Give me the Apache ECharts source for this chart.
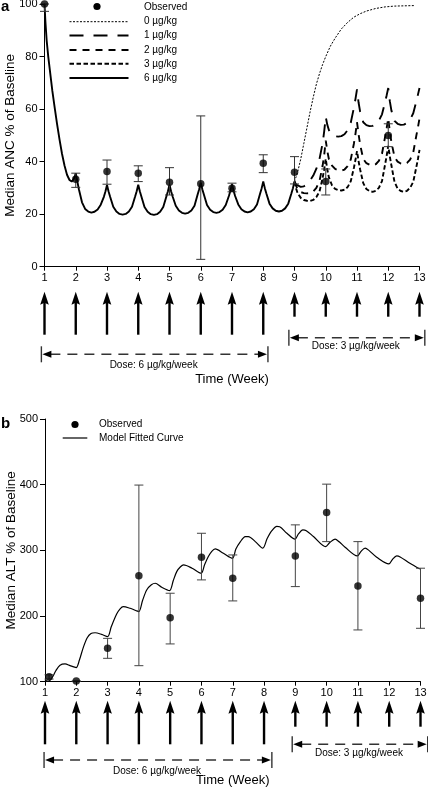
<!DOCTYPE html>
<html><head><meta charset="utf-8">
<script src="https://cdn.jsdelivr.net/npm/echarts@6/dist/echarts.min.js"></script>
<style>html,body{margin:0;padding:0;background:#fff}#c{width:428px;height:791px}</style>
</head><body><div id="c"></div>
<script>
const FONT = '"Liberation Sans", Arial, Helvetica, sans-serif';

// ---------- Panel a : ANC ----------
const weeksA6 = [1, 1.03, 1.07, 1.12, 1.18, 1.25, 1.32, 1.4, 1.48, 1.56, 1.64, 1.72, 1.8, 1.87, 1.93, 1.97, 2,
  2.05, 2.1, 2.2, 2.3, 2.4, 2.5, 2.6, 2.7, 2.8, 2.9, 2.95, 3,
  3.05, 3.1, 3.2, 3.3, 3.4, 3.5, 3.6, 3.7, 3.8, 3.9, 3.95, 4,
  4.05, 4.1, 4.2, 4.3, 4.4, 4.5, 4.6, 4.7, 4.8, 4.9, 4.95, 5,
  5.05, 5.1, 5.2, 5.3, 5.4, 5.5, 5.6, 5.7, 5.8, 5.9, 5.95, 6,
  6.05, 6.1, 6.2, 6.3, 6.4, 6.5, 6.6, 6.7, 6.8, 6.9, 6.95, 7,
  7.05, 7.1, 7.2, 7.3, 7.4, 7.5, 7.6, 7.7, 7.8, 7.9, 7.95, 8,
  8.05, 8.1, 8.2, 8.3, 8.4, 8.5, 8.6, 8.7, 8.8, 8.9, 8.95, 9];
const ancDose6 = [100, 93, 86, 80, 74, 67, 61, 54.5, 48.5, 43, 38.5, 35, 33, 32.4, 33.2, 34.5, 35.6,
  32.5, 29.5, 24.5, 22, 21, 20.6, 20.9, 21.8, 23.6, 26.6, 28.6, 31.1,
  28.6, 26.6, 22.8, 21, 20.1, 19.8, 20.1, 21, 22.8, 26.7, 28.7, 31.2,
  28.7, 26.7, 22.7, 20.9, 20, 19.7, 20, 20.9, 22.7, 26.7, 28.7, 31.2,
  28.7, 26.7, 23.2, 21.4, 20.5, 20.2, 20.5, 21.4, 23.2, 27.5, 29.5, 32,
  29.5, 27.5, 23.5, 21.7, 20.8, 20.5, 20.8, 21.7, 23.5, 26.9, 28.9, 31.4,
  28.9, 26.9, 23.7, 21.9, 21, 20.7, 21, 21.9, 23.7, 27.9, 29.9, 32.4,
  29.9, 27.9, 24, 22.2, 21.3, 21, 21.3, 22.2, 24, 27.9, 29.9, 32.4];

const weeksA0 = [9, 9.1, 9.2, 9.3, 9.4, 9.5, 9.6, 9.7, 9.8, 9.9, 10, 10.15, 10.3, 10.5, 10.7, 10.9, 11.1, 11.3, 11.6, 11.9, 12.2, 12.5, 12.85];
const ancDose0 = [32.4, 36, 41, 47, 53, 59, 64.5, 69.5, 73.5, 77, 80, 84, 87, 90.5, 93, 95, 96.3, 97.3, 98.3, 98.9, 99.2, 99.3, 99.4];

const weeksA9 = [9,
  9.05, 9.1, 9.2, 9.3, 9.4, 9.5, 9.6, 9.7, 9.8, 9.9, 9.95, 10,
  10.05, 10.1, 10.2, 10.3, 10.4, 10.5, 10.6, 10.7, 10.8, 10.9, 10.95, 11,
  11.05, 11.1, 11.2, 11.3, 11.4, 11.5, 11.6, 11.7, 11.8, 11.9, 11.95, 12,
  12.05, 12.1, 12.2, 12.3, 12.4, 12.5, 12.6, 12.7, 12.8, 12.9, 12.95, 13];
const ancDose1 = [32.4,
  31.3, 30.8, 30.4, 30.6, 31.4, 32.8, 34.7, 37.3, 41, 47, 51.5, 57,
  54, 52, 50.3, 49.7, 49.5, 49.7, 50.4, 52, 54.8, 60.5, 63.8, 67.5,
  62.5, 59, 55, 53.9, 53.5, 53.6, 54.2, 55.6, 58, 62.8, 65.3, 68,
  63, 59.5, 55.5, 54.4, 54, 54.1, 54.7, 56, 58.4, 63, 65.5, 68];
const ancDose2 = [32.4,
  30.8, 29.6, 28.4, 28, 27.9, 28, 28.6, 30, 32.6, 38.5, 42.5, 48,
  44, 41, 38.5, 37.2, 36.7, 36.5, 37, 38.3, 40.8, 46.8, 50.5, 55,
  50.5, 46.5, 41, 39.4, 38.8, 38.5, 39, 40.3, 43, 49.5, 52.8, 56.5,
  51.5, 47.5, 41.8, 40, 39.3, 39, 39.5, 40.8, 43.5, 50, 53, 56.5];
const ancDose3 = [32.4,
  29.8, 28, 26.2, 25.4, 25.1, 25, 25.4, 26.5, 28.6, 33.8, 37, 41,
  37, 34, 31, 29.6, 29.1, 29, 29.3, 30.3, 32.5, 37.6, 40.6, 44,
  40.2, 37, 31.8, 29.6, 28.8, 28.5, 28.9, 30, 32.6, 39, 42.3, 46,
  42, 38.6, 32.3, 29.7, 28.8, 28.5, 28.9, 30, 32.3, 38, 41, 44.5];

const obsWeeksA = [1, 2, 3, 4, 5, 6, 7, 8, 9, 10, 12];
const obsAncA   = [100, 33.3, 36.2, 35.6, 32.1, 31.6, 29.9, 39.4, 36.0, 32.4, 49.9];
const obsLowA   = [97.2, 30.2, 31.4, 32.4, 27.3, 2.8, 28.5, 35.8, 31.5, 27.3, 45.7];
const obsHighA  = [100, 35.6, 40.6, 38.4, 37.7, 57.4, 31.8, 42.6, 41.9, 37.2, 54.4];

// ---------- Panel b : ALT ----------
const weeksB = [1, 1.08, 1.16, 1.25, 1.35, 1.48, 1.64, 1.8, 1.92, 2,
  2.1, 2.23, 2.35, 2.47, 2.6, 2.81, 3,
  3.12, 3.29, 3.4, 3.5, 3.72, 3.9, 4,
  4.12, 4.25, 4.4, 4.52, 4.73, 4.98,
  5.1, 5.21, 5.33, 5.43, 5.7, 5.99,
  6.1, 6.22, 6.33, 6.44, 6.7, 6.99,
  7.1, 7.24, 7.4, 7.5, 7.72, 7.96,
  8.1, 8.25, 8.41, 8.5, 8.73, 8.99,
  9.1, 9.24, 9.35, 9.58, 9.97,
  10.1, 10.27, 10.4, 10.59, 10.98,
  11.1, 11.23, 11.35, 11.6, 11.99,
  12.1, 12.24, 12.35, 12.66, 12.98];
const altModel = [102.6, 101, 102, 108, 117, 125, 127, 124.5, 122.5, 121.5,
  133, 153, 167, 173.5, 174.5, 172, 168.6,
  184, 203, 211, 214.3, 211.8, 208.5, 206.7,
  224, 239.7, 247.5, 249.9, 243.8, 238.7,
  254, 267.6, 275, 277.8, 272.8, 265.2,
  278, 290.5, 298.5, 302.2, 295.6, 288,
  302, 313, 320.9, 321, 313.3, 303.3,
  318, 330, 336.5, 336, 326, 317,
  325, 331.2, 330, 321, 305.7,
  312, 317, 313, 304.8, 291.5,
  298.5, 303.3, 300, 289.6, 279.3,
  286, 291.5, 290, 280.4, 271.7];

const obsWeeksB = [1.13, 2, 3, 4, 5, 6, 7, 9, 10, 11, 13];
const obsAltB   = [107.6, 101, 150.9, 261.5, 197.5, 289.5, 257.5, 291.5, 357.5, 245.8, 227];
const obsLowB   = [104, 101, 135.6, 124.4, 157.5, 255, 223, 244.8, 313.3, 178.8, 181.3];
const obsHighB  = [110.5, 101, 166, 399.4, 234.7, 326, 293, 338.8, 400.8, 313.3, 272.8];

// ---------- dosing ----------
const doseWeeks = [1, 2, 3, 4, 5, 6, 7, 8, 9, 10, 11, 12, 13];
const doseLevel = [6, 6, 6, 6, 6, 6, 6, 6, 3, 3, 3, 3, 3];
const periodStartA = [0.9, 8.82];
const periodEndA   = [8.15, 13.17];
const periodStartB = [0.97, 8.9];
const periodEndB   = [8.25, 13.23];
const periodDose  = [6, 3];
const periodLabels = ['Dose: 6 µg/kg/week', 'Dose: 3 µg/kg/week'];
const xTickLabels = ['1','2','3','4','5','6','7','8','9','10','11','12','13'];

const legendLabelsA = ['Observed', '0 µg/kg', '1 µg/kg', '2 µg/kg', '3 µg/kg', '6 µg/kg'];
const legendLabelsB = ['Observed', 'Model Fitted Curve'];

const zip = (a, b) => a.map((v, i) => [v, b[i]]);
const zip3 = (a, b, c) => a.map((v, i) => [v, b[i], c[i]]);

function errRender(color) {
  return function (params, api) {
    const w = api.value(0);
    const pl = api.coord([w, api.value(1)]);
    const ph = api.coord([w, api.value(2)]);
    const x = pl[0];
    const st = { stroke: color, lineWidth: 1 };
    return { type: 'group', children: [
      { type: 'line', shape: { x1: x, y1: pl[1], x2: x, y2: ph[1] }, style: st },
      { type: 'line', shape: { x1: x - 4.5, y1: pl[1], x2: x + 4.5, y2: pl[1] }, style: st },
      { type: 'line', shape: { x1: x - 4.5, y1: ph[1], x2: x + 4.5, y2: ph[1] }, style: st }
    ]};
  };
}

function arrowRender(cfg) {
  return function (params, api) {
    const cs = params.coordSys;
    const y0 = cs.y + cs.height;
    const x = api.coord([api.value(0), cfg.yMin])[0];
    const tip = y0 + cfg.tip;
    const bottom = y0 + (api.value(1) === 6 ? cfg.longB : cfg.shortB);
    return { type: 'group', children: [
      { type: 'line', shape: { x1: x, y1: tip + 8, x2: x, y2: bottom }, style: { stroke: '#000', lineWidth: 2.4 } },
      { type: 'polygon', shape: { points: [[x, tip], [x - 4.3, tip + 13], [x, tip + 11], [x + 4.3, tip + 13]] }, style: { fill: '#000' } }
    ]};
  };
}

function periodRender(cfg) {
  return function (params, api) {
    const cs = params.coordSys;
    const y0 = cs.y + cs.height;
    const xa = api.coord([api.value(0), cfg.yMin])[0];
    const xb = api.coord([api.value(1), cfg.yMin])[0];
    const six = api.value(2) === 6;
    const y = y0 + (six ? cfg.off6 : cfg.off3);
    const tOff = six ? 11 : 8.5;
    const col = '#333';
    return { type: 'group', children: [
      { type: 'line', shape: { x1: xa + 9, y1: y, x2: xb - 9, y2: y }, style: { stroke: col, lineWidth: 1.4, lineDash: [10, 7] } },
      { type: 'line', shape: { x1: xa, y1: y - 8, x2: xa, y2: y + 8 }, style: { stroke: col, lineWidth: 1.4 } },
      { type: 'line', shape: { x1: xb, y1: y - 8, x2: xb, y2: y + 8 }, style: { stroke: col, lineWidth: 1.4 } },
      { type: 'polygon', shape: { points: [[xa + 1, y], [xa + 10, y - 3.5], [xa + 10, y + 3.5]] }, style: { fill: '#000' } },
      { type: 'polygon', shape: { points: [[xb - 1, y], [xb - 10, y - 3.5], [xb - 10, y + 3.5]] }, style: { fill: '#000' } },
      { type: 'text', x: (xa + xb) / 2 - 1, y: y + tOff,
        style: { text: periodLabels[params.dataIndex], font: '10px ' + FONT, fill: '#000', align: 'center', verticalAlign: 'middle' } }
    ]};
  };
}

const axisLineStyle = { show: true, onZero: false, lineStyle: { color: '#000', width: 1 } };
function xAx(gridIndex, gap) {
  return {
    type: 'value', gridIndex, min: 1, max: 13, interval: 1,
    axisLine: axisLineStyle,
    axisTick: { show: true, length: 4, lineStyle: { color: '#000' } },
    axisLabel: { color: '#000', fontSize: 11, fontFamily: FONT, margin: 6,
      formatter: v => xTickLabels[Math.round(v) - 1] || '' },
    splitLine: { show: false },
    name: 'Time (Week)', nameLocation: 'middle', nameGap: gap,
    nameTextStyle: { color: '#000', fontSize: 13, fontFamily: FONT }
  };
}
function yAx(gridIndex, min, max, interval, name) {
  return {
    type: 'value', gridIndex, min, max, interval,
    axisLine: axisLineStyle,
    axisTick: { show: true, length: 5, lineStyle: { color: '#000' } },
    axisLabel: { color: '#000', fontSize: 11, fontFamily: FONT, margin: 7 },
    splitLine: { show: false },
    name, nameLocation: 'middle', nameGap: 27, nameMoveOverlap: false,
    nameTextStyle: { color: '#000', fontSize: 13.5, fontFamily: FONT }
  };
}

const lineA = (data, dash, width) => ({
  type: 'line', xAxisIndex: 0, yAxisIndex: 0, data, symbol: 'none', silent: true, clip: false,
  lineStyle: { color: '#000', width, type: dash }, z: 3
});

// legend graphics
const legendA = [];
legendA.push({ type: 'circle', shape: { cx: 97, cy: 6.5, r: 3.6 }, style: { fill: '#000' } });
const legDash = [[2, 1.5], [14, 10], [7, 6], [4.5, 2.5], null];
const legW = [1, 2, 2, 2, 2];
const legY = [21.7, 35.5, 50, 63.8, 78];
for (let i = 0; i < 5; i++) {
  legendA.push({ type: 'line', shape: { x1: 69.5, y1: legY[i], x2: 128.5, y2: legY[i] },
    style: { stroke: '#000', lineWidth: legW[i], lineDash: legDash[i] } });
}
const legTY = [7, 21.7, 35.5, 50, 63.8, 78];
legendLabelsA.forEach((t, i) => legendA.push({ type: 'text', x: 144, y: legTY[i],
  style: { text: t, font: '10px ' + FONT, fill: '#000', verticalAlign: 'middle' } }));

const legendB = [
  { type: 'circle', shape: { cx: 75, cy: 424.5, r: 3.6 }, style: { fill: '#000' } },
  { type: 'line', shape: { x1: 62.7, y1: 438, x2: 87.3, y2: 438 }, style: { stroke: '#000', lineWidth: 1.2 } },
  { type: 'text', x: 99, y: 424, style: { text: legendLabelsB[0], font: '10px ' + FONT, fill: '#000', verticalAlign: 'middle' } },
  { type: 'text', x: 99, y: 438, style: { text: legendLabelsB[1], font: '10px ' + FONT, fill: '#000', verticalAlign: 'middle' } }
];

const panelLabels = [
  { type: 'text', x: 1, y: 7, style: { text: 'a', font: 'bold 15px ' + FONT, fill: '#000', verticalAlign: 'middle' } },
  { type: 'text', x: 1, y: 424, style: { text: 'b', font: 'bold 15px ' + FONT, fill: '#000', verticalAlign: 'middle' } }
];

const chart = echarts.init(document.getElementById('c'));
chart.setOption({
  animation: false,
  backgroundColor: '#fff',
  grid: [
    { left: 44.5, top: 4, width: 375, height: 262.7, containLabel: false, outerBoundsMode: 'none' },
    { left: 45, top: 419, width: 375.5, height: 262.7, containLabel: false, outerBoundsMode: 'none' }
  ],
  xAxis: [xAx(0, 106), xAx(1, 92.5)],
  yAxis: [yAx(0, 0, 100, 20, 'Median ANC % of Baseline'), yAx(1, 100, 500, 100, 'Median ALT % of Baseline')],
  graphic: { elements: [...legendA, ...legendB, ...panelLabels] },
  series: [
    lineA(zip(weeksA6, ancDose6), 'solid', 1.9),
    lineA(zip(weeksA0, ancDose0), [2, 1.5], 1),
    lineA(zip(weeksA9, ancDose1), [13, 9], 1.9),
    lineA(zip(weeksA9, ancDose2), [7, 6], 1.9),
    lineA(zip(weeksA9, ancDose3), [4.5, 2.5], 1.9),
    { type: 'custom', xAxisIndex: 0, yAxisIndex: 0, data: zip3(obsWeeksA, obsLowA, obsHighA),
      encode: { x: 0, y: [1, 2] }, renderItem: errRender('#333'), silent: true, z: 4, clip: false },
    { type: 'scatter', xAxisIndex: 0, yAxisIndex: 0, data: zip(obsWeeksA, obsAncA), symbol: 'circle',
      symbolSize: 7.5, itemStyle: { color: '#000' }, silent: true, z: 5, clip: false },
    { type: 'custom', xAxisIndex: 0, yAxisIndex: 0, data: zip(doseWeeks, doseLevel), encode: { x: 0, y: 1 },
      renderItem: arrowRender({ yMin: 0, tip: 25, longB: 68, shortB: 50 }), silent: true, clip: false },
    { type: 'custom', xAxisIndex: 0, yAxisIndex: 0, data: zip3(periodStartA, periodEndA, periodDose),
      encode: { x: [0, 1] }, renderItem: periodRender({ yMin: 0, off6: 87.6, off3: 71 }), silent: true, clip: false },

    { type: 'line', xAxisIndex: 1, yAxisIndex: 1, data: zip(weeksB, altModel), symbol: 'none', smooth: 0.3,
      silent: true, clip: false, lineStyle: { color: '#000', width: 1.2 }, z: 3 },
    { type: 'custom', xAxisIndex: 1, yAxisIndex: 1, data: zip3(obsWeeksB, obsLowB, obsHighB),
      encode: { x: 0, y: [1, 2] }, renderItem: errRender('#444'), silent: true, z: 4, clip: false },
    { type: 'scatter', xAxisIndex: 1, yAxisIndex: 1, data: zip(obsWeeksB, obsAltB), symbol: 'circle',
      symbolSize: 7.5, itemStyle: { color: '#000' }, silent: true, z: 5, clip: false },
    { type: 'custom', xAxisIndex: 1, yAxisIndex: 1, data: zip(doseWeeks, doseLevel), encode: { x: 0, y: 1 },
      renderItem: arrowRender({ yMin: 100, tip: 19, longB: 62.6, shortB: 45 }), silent: true, clip: false },
    { type: 'custom', xAxisIndex: 1, yAxisIndex: 1, data: zip3(periodStartB, periodEndB, periodDose),
      encode: { x: [0, 1] }, renderItem: periodRender({ yMin: 100, off6: 78.3, off3: 62.6 }), silent: true, clip: false }
  ]
});
</script></body></html>
